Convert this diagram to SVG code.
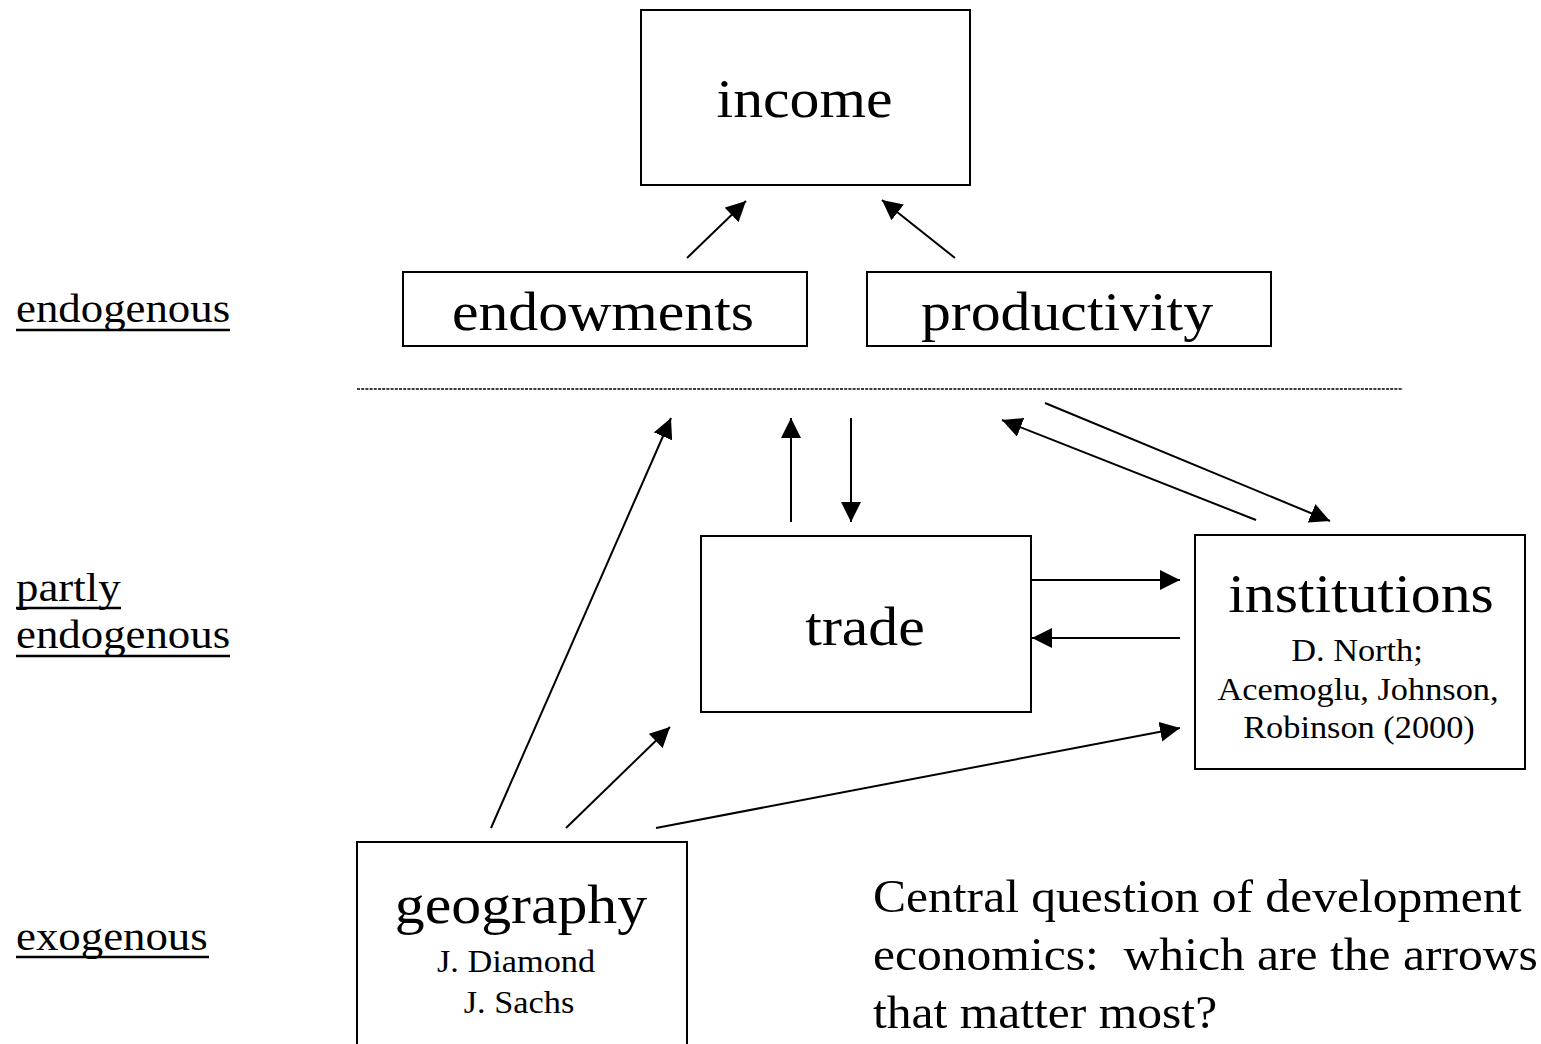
<svg xmlns="http://www.w3.org/2000/svg" width="1541" height="1044" viewBox="0 0 1541 1044">
<style>
.box{fill:#fff;stroke:#000;stroke-width:2}
text{font-family:"Liberation Serif","Times New Roman",serif;fill:#000}
.big{font-size:54px;text-anchor:middle}
.small{font-size:31px;text-anchor:middle}
.lbl{font-size:40.5px}
.note{font-size:47px}
.ul{stroke:#000;stroke-width:2.5}
.arr{stroke:#000;stroke-width:2;fill:none;marker-end:url(#ah)}
</style>
<defs>
<marker id="ah" markerUnits="userSpaceOnUse" markerWidth="20" markerHeight="20" refX="20" refY="10" orient="auto">
<path d="M0,0 L20,10 L0,20 z" fill="#000"/>
</marker>
</defs>
<rect width="1541" height="1044" fill="#fff"/>

<g id="labels">
<text class="lbl" transform="translate(16,322) scale(1.107,1)">endogenous</text>
<line class="ul" x1="16" y1="330" x2="230" y2="330"/>
<text class="lbl" transform="translate(16,601) scale(1.107,1)">partly</text>
<line class="ul" x1="16" y1="608" x2="121" y2="608"/>
<text class="lbl" transform="translate(16,648) scale(1.107,1)">endogenous</text>
<line class="ul" x1="16" y1="656" x2="230" y2="656"/>
<text class="lbl" transform="translate(16,950) scale(1.107,1)">exogenous</text>
<line class="ul" x1="16" y1="957" x2="209" y2="957"/>
</g>

<line id="divider" x1="357" y1="389" x2="1403" y2="389" stroke="#000" stroke-width="1.6" stroke-dasharray="3 1.2"/>

<g id="income">
<rect class="box" x="641" y="10" width="329" height="175"/>
<text class="big" transform="translate(804.5,117) scale(1.107,1)">income</text>
</g>
<g id="endowments">
<rect class="box" x="403" y="272" width="404" height="74"/>
<text class="big" transform="translate(603,330) scale(1.107,1)">endowments</text>
</g>
<g id="productivity">
<rect class="box" x="867" y="272" width="404" height="74"/>
<text class="big" transform="translate(1067,330) scale(1.107,1)">productivity</text>
</g>
<g id="trade">
<rect class="box" x="701" y="536" width="330" height="176"/>
<text class="big" transform="translate(865,645) scale(1.107,1)">trade</text>
</g>
<g id="institutions">
<rect class="box" x="1195" y="535" width="330" height="234"/>
<text class="big" transform="translate(1361,612) scale(1.107,1)">institutions</text>
<text class="small" transform="translate(1357,661) scale(1.107,1)">D. North;</text>
<text class="small" transform="translate(1358,700) scale(1.107,1)">Acemoglu, Johnson,</text>
<text class="small" transform="translate(1359,738) scale(1.107,1)">Robinson (2000)</text>
</g>
<g id="geography">
<rect class="box" x="357" y="842" width="330" height="220"/>
<text class="big" transform="translate(521,923) scale(1.107,1)">geography</text>
<text class="small" transform="translate(516,972) scale(1.107,1)">J. Diamond</text>
<text class="small" transform="translate(519,1013) scale(1.107,1)">J. Sachs</text>
</g>

<g id="connectors">
<line class="arr" x1="687" y1="258" x2="746" y2="201"/>
<line class="arr" x1="955" y1="258" x2="882" y2="200"/>
<line class="arr" x1="491" y1="828" x2="671" y2="418"/>
<line class="arr" x1="791" y1="522" x2="791" y2="418"/>
<line class="arr" x1="851" y1="418" x2="851" y2="522"/>
<line class="arr" x1="1256" y1="520" x2="1002" y2="420"/>
<line class="arr" x1="1045" y1="403" x2="1330" y2="521"/>
<line class="arr" x1="1032" y1="580" x2="1180" y2="580"/>
<line class="arr" x1="1180" y1="638" x2="1032" y2="638"/>
<line class="arr" x1="566" y1="828" x2="670" y2="727"/>
<line class="arr" x1="656" y1="828" x2="1180" y2="728"/>
</g>

<g id="question">
<text class="note" transform="translate(873,912) scale(1.055,1)">Central question of development</text>
<text class="note" transform="translate(873,970) scale(1.055,1)" xml:space="preserve">economics:  which are the arrows</text>
<text class="note" transform="translate(873,1028) scale(1.055,1)">that matter most?</text>
</g>
</svg>
